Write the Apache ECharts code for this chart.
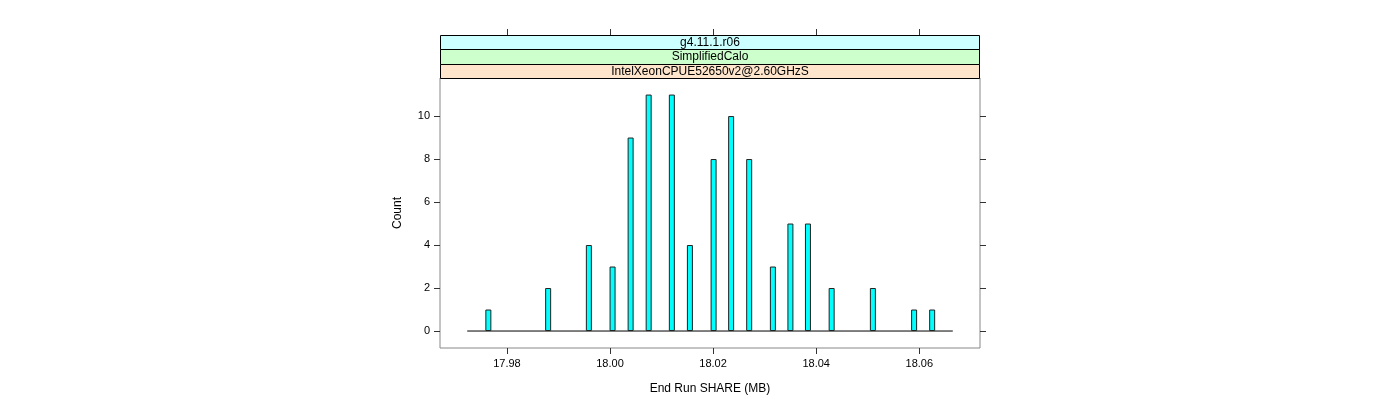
<!DOCTYPE html>
<html>
<head>
<meta charset="utf-8">
<script src="https://cdn.jsdelivr.net/npm/echarts@6/dist/echarts.min.js"></script>
<style>
html,body{margin:0;padding:0;background:#fff;}
#chart{width:1400px;height:400px;}
</style>
</head>
<body>
<div id="chart"></div>
<script>
// Data
var shareMB = [17.9764, 17.9880, 17.9959, 18.0005, 18.0040, 18.0075, 18.0120, 18.0155, 18.0201,
               18.0235, 18.0270, 18.0316, 18.0350, 18.0384, 18.0430, 18.0510, 18.0590, 18.0625];
var counts  = [1, 2, 4, 3, 9, 11, 11, 4, 8, 10, 8, 3, 5, 5, 2, 2, 1, 1];
var baselineRange = [17.9723, 18.0665];
var xTicks = [17.98, 18.00, 18.02, 18.04, 18.06];
var yTicks = [0, 2, 4, 6, 8, 10];
var stripLabels = ["g4.11.1.r06", "SimplifiedCalo", "IntelXeonCPUE52650v2@2.60GHzS"];
var stripColors = ["#CCFFFF", "#CCFFCC", "#FFE5CC"];
var xRange = [17.96702, 18.07178];
var yRange = [-0.79, 11.77];

var FONT = "Liberation Sans";
var chart = echarts.init(document.getElementById('chart'), null, {renderer: 'canvas'});

var barData = shareMB.map(function (x, i) { return [x, counts[i]]; });
var baseData = [[baselineRange[0], 0], [baselineRange[1], 0]];

var gridL = 440, gridT = 78, gridW = 540, gridH = 270;
var stripTops = [35, 49, 64, 78];

var graphics = [];
for (var i = 0; i < stripLabels.length; i++) {
  graphics.push({
    type: 'rect',
    left: gridL, top: stripTops[i],
    shape: {width: gridW - 1, height: stripTops[i + 1] - stripTops[i]},
    style: {fill: stripColors[i], stroke: '#000', lineWidth: 1},
    z: 10
  });
  graphics.push({
    type: 'text',
    x: gridL + gridW / 2,
    y: (stripTops[i] + stripTops[i + 1]) / 2 + 0.5,
    style: {text: stripLabels[i], fill: '#000', font: '12px "' + FONT + '"', align: 'center', verticalAlign: 'middle'},
    z: 11
  });
}

var tickColor = '#333';
chart.setOption({
  animation: false,
  backgroundColor: '#fff',
  textStyle: {fontFamily: FONT},
  grid: {left: gridL, top: gridT, width: gridW, height: gridH, show: true, borderColor: '#888', borderWidth: 1, backgroundColor: 'transparent'},
  graphic: graphics,
  xAxis: [{
    type: 'value', min: xRange[0], max: xRange[1],
    position: 'bottom',
    name: 'End Run SHARE (MB)', nameLocation: 'middle', nameGap: 35,
    nameTextStyle: {fontFamily: FONT, fontSize: 12, color: '#000'},
    axisLine: {show: false, onZero: false},
    splitLine: {show: false},
    axisTick: {show: true, inside: false, length: 6, customValues: xTicks, lineStyle: {color: tickColor}},
    axisLabel: {show: true, customValues: xTicks, margin: 10, fontFamily: FONT, fontSize: 11, color: '#000',
      formatter: function (v) { return v.toFixed(2); }}
  }, {
    type: 'value', min: xRange[0], max: xRange[1],
    position: 'top', offset: gridT - stripTops[0],
    axisLine: {show: false, onZero: false},
    splitLine: {show: false},
    axisTick: {show: true, inside: false, length: 6, customValues: xTicks, lineStyle: {color: tickColor}},
    axisLabel: {show: false}
  }],
  yAxis: [{
    type: 'value', min: yRange[0], max: yRange[1],
    position: 'left',
    name: 'Count', nameLocation: 'middle', nameGap: 36, nameRotate: 90,
    nameTextStyle: {fontFamily: FONT, fontSize: 12, color: '#000'},
    axisLine: {show: false, onZero: false},
    splitLine: {show: false},
    axisTick: {show: true, inside: false, length: 6, customValues: yTicks, lineStyle: {color: tickColor}},
    axisLabel: {show: true, customValues: yTicks, margin: 10, fontFamily: FONT, fontSize: 11, color: '#000'}
  }, {
    type: 'value', min: yRange[0], max: yRange[1],
    position: 'right',
    axisLine: {show: false, onZero: false},
    splitLine: {show: false},
    axisTick: {show: true, inside: false, length: 6, customValues: yTicks, lineStyle: {color: tickColor}},
    axisLabel: {show: false}
  }],
  series: [{
    type: 'line',
    data: baseData,
    symbol: 'none',
    lineStyle: {color: '#000', width: 1},
    z: 1,
    silent: true
  }, {
    type: 'bar',
    data: barData,
    barWidth: 6,
    itemStyle: {color: '#00FFFF', borderColor: '#222', borderWidth: 1},
    z: 2,
    silent: true
  }]
});
</script>
</body>
</html>
